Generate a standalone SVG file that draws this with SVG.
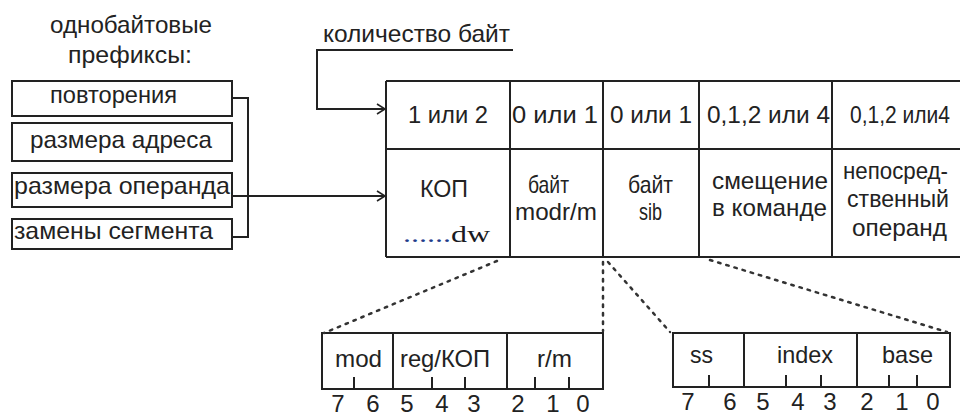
<svg xmlns="http://www.w3.org/2000/svg" width="960" height="419" viewBox="0 0 960 419">
<defs>
<style>
.t{font-family:"Liberation Sans",Arial,sans-serif;font-size:24px;fill:#222}
.c{text-anchor:middle}
.b{fill:#fff;stroke:#222;stroke-width:2}
.l{fill:none;stroke:#222;stroke-width:2}
.d{fill:none;stroke:#333;stroke-width:2.5;stroke-dasharray:2.5 6;stroke-linecap:round}
</style>
<marker id="ah" markerUnits="userSpaceOnUse" markerWidth="12" markerHeight="12" refX="9" refY="6" orient="auto">
<path d="M1,1 L9,6 L1,11" fill="none" stroke="#222" stroke-width="1.6"/>
</marker>
</defs>
<rect width="960" height="419" fill="#fff"/>

<g id="prefix-title">
<text class="t" x="50" y="33" font-size="25" textLength="162" lengthAdjust="spacingAndGlyphs">однобайтовые</text>
<text class="t" x="68" y="63" font-size="25" textLength="124" lengthAdjust="spacingAndGlyphs">префиксы:</text>
</g>
<g id="p-rep"><rect class="b" x="12" y="81" width="220" height="35"/><text class="t" x="50" y="103" font-size="25" textLength="127" lengthAdjust="spacingAndGlyphs">повторения</text></g>
<g id="p-addr"><rect class="b" x="12" y="123" width="220" height="38"/><text class="t" x="30" y="148" font-size="25" textLength="182" lengthAdjust="spacingAndGlyphs">размера адреса</text></g>
<g id="p-oper"><rect class="b" x="12" y="173" width="220" height="34"/><text class="t" x="14" y="194" font-size="25" textLength="216" lengthAdjust="spacingAndGlyphs">размера операнда</text></g>
<g id="p-seg"><rect class="b" x="12" y="219" width="220" height="30"/><text class="t" x="14" y="239" font-size="25" textLength="199" lengthAdjust="spacingAndGlyphs">замены сегмента</text></g>

<g id="bytes-label"><text class="t" x="323" y="42" font-size="24" textLength="187" lengthAdjust="spacingAndGlyphs">количество байт</text></g>

<g id="main-table">
<path class="l" d="M386,81 H960 M386,149 H960 M386,257 H960 M386,81 V257 M510,81 V257 M603,81 V257 M699,81 V257 M832,81 V257"/>
</g>
<g id="col-kop">
<text class="t" x="408" y="123" font-size="23" textLength="80" lengthAdjust="spacingAndGlyphs">1 или 2</text>
<text class="t" x="420" y="197" font-size="26" textLength="48" lengthAdjust="spacingAndGlyphs">КОП</text>
<text x="403" y="242" font-family="'Liberation Serif','Times New Roman',serif" font-size="24" textLength="87" lengthAdjust="spacingAndGlyphs"><tspan fill="#1f3c8c">......</tspan><tspan fill="#1a1a22">dw</tspan></text>
</g>
<g id="col-modrm">
<text class="t" x="512" y="123" font-size="23" textLength="86" lengthAdjust="spacingAndGlyphs">0 или 1</text>
<text class="t" x="528" y="193" textLength="41" lengthAdjust="spacingAndGlyphs">байт</text>
<text class="t" x="515" y="220" textLength="82" lengthAdjust="spacingAndGlyphs">modr/m</text>
</g>
<g id="col-sib">
<text class="t" x="610" y="123" font-size="23" textLength="82" lengthAdjust="spacingAndGlyphs">0 или 1</text>
<text class="t" x="628" y="193" textLength="45" lengthAdjust="spacingAndGlyphs">байт</text>
<text class="t" x="639" y="220" textLength="23" lengthAdjust="spacingAndGlyphs">sib</text>
</g>
<g id="col-disp">
<text class="t" x="707" y="123" font-size="23" textLength="123" lengthAdjust="spacingAndGlyphs">0,1,2 или 4</text>
<text class="t" x="712" y="189" font-size="23" textLength="116" lengthAdjust="spacingAndGlyphs">смещение</text>
<text class="t" x="712" y="216" font-size="23" textLength="115" lengthAdjust="spacingAndGlyphs">в команде</text>
</g>
<g id="col-imm">
<text class="t" x="850" y="123" font-size="23" textLength="100" lengthAdjust="spacingAndGlyphs">0,1,2 или4</text>
<text class="t" x="843" y="179" textLength="105" lengthAdjust="spacingAndGlyphs">непосред-</text>
<text class="t" x="847" y="207" textLength="102" lengthAdjust="spacingAndGlyphs">ственный</text>
<text class="t" x="852" y="236" textLength="95" lengthAdjust="spacingAndGlyphs">операнд</text>
</g>

<g id="modrm-byte">
<rect class="b" x="322" y="333" width="281" height="56"/>
<path class="l" d="M393,333 V389 M507,333 V389 M354,377 V389 M432,377 V389 M465,377 V389 M535,377 V389 M569,377 V389"/>
<text class="t" x="335" y="367" textLength="47" lengthAdjust="spacingAndGlyphs">mod</text>
<text class="t" x="400" y="367" textLength="90" lengthAdjust="spacingAndGlyphs">reg/КОП</text>
<text class="t" x="537" y="367" textLength="35" lengthAdjust="spacingAndGlyphs">r/m</text>
<g class="t c" font-size="22">
<text x="338" y="412">7</text><text x="373" y="412">6</text><text x="407" y="412">5</text><text x="442" y="412">4</text><text x="474" y="412">3</text><text x="518" y="412">2</text><text x="553" y="412">1</text><text x="583" y="412">0</text>
</g>
</g>

<g id="sib-byte">
<rect class="b" x="673" y="333" width="277" height="54"/>
<path class="l" d="M744,333 V387 M857,333 V387 M709,375 V387 M786,375 V387 M821,375 V387 M889,375 V387 M917,375 V387"/>
<text class="t" x="690" y="363" textLength="23" lengthAdjust="spacingAndGlyphs">ss</text>
<text class="t" x="777" y="363" textLength="56" lengthAdjust="spacingAndGlyphs">index</text>
<text class="t" x="882" y="363" textLength="51" lengthAdjust="spacingAndGlyphs">base</text>
<g class="t c" font-size="22">
<text x="688" y="410">7</text><text x="730" y="410">6</text><text x="763" y="410">5</text><text x="798" y="410">4</text><text x="830" y="410">3</text><text x="867" y="410">2</text><text x="902" y="410">1</text><text x="933" y="410">0</text>
</g>
</g>

<g id="connectors">
<path class="l" d="M513,50 H317 V109 H385" marker-end="url(#ah)"/>
<path class="l" d="M232,98 H248 V237 H232"/>
<path class="l" d="M232,196 H385" marker-end="url(#ah)"/>
<path class="d" d="M497,261 L324,333"/>
<path class="d" d="M603,262 V331"/>
<path class="d" d="M608,262 L670,332"/>
<path class="d" d="M710,260 L947,332"/>
</g>
</svg>
